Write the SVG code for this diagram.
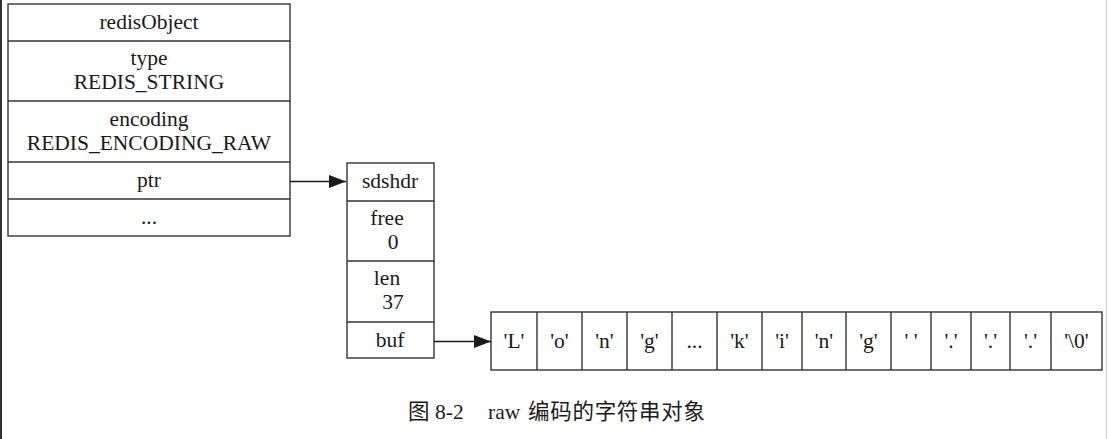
<svg xmlns="http://www.w3.org/2000/svg" width="1109" height="439" viewBox="0 0 1109 439">
<style>
.box{fill:#fff;stroke:#333;stroke-width:1.4}
.sep{stroke:#333;stroke-width:1.4}
text{font-family:"Liberation Serif","Times New Roman",serif;font-size:21.5px;fill:#1a1a1a;text-anchor:middle}
.edge{stroke:#1a1a1a;stroke-width:1.4;fill:none}
.cap{text-anchor:start}
.cjk{font-family:"Liberation Serif","Noto Sans CJK SC",serif}
</style>
<defs>
<marker id="ah" markerUnits="userSpaceOnUse" markerWidth="18" markerHeight="14" refX="17" refY="6.5" orient="auto">
<path d="M0,0 L17,6.5 L0,13 z" fill="#1a1a1a"/>
</marker>
</defs>
<rect x="0" y="0" width="2" height="439" fill="#2b3035"/>
<line x1="1106.5" y1="0" x2="1106.5" y2="439" stroke="#cfcfcf" stroke-width="1"/>
<g id="redisObject">
<rect class="box" x="8" y="4" width="282" height="232"/>
<line class="sep" x1="8" y1="41" x2="290" y2="41"/>
<line class="sep" x1="8" y1="101" x2="290" y2="101"/>
<line class="sep" x1="8" y1="162" x2="290" y2="162"/>
<line class="sep" x1="8" y1="199" x2="290" y2="199"/>
<text x="149" y="29">redisObject</text>
<text x="149" y="65">type</text>
<text x="149" y="89">REDIS_STRING</text>
<text x="149" y="126">encoding</text>
<text x="149" y="150">REDIS_ENCODING_RAW</text>
<text x="149" y="187">ptr</text>
<text x="149" y="224">...</text>
</g>
<g id="sdshdr">
<rect class="box" x="347" y="163" width="87" height="195"/>
<line class="sep" x1="347" y1="201" x2="434" y2="201"/>
<line class="sep" x1="347" y1="261" x2="434" y2="261"/>
<line class="sep" x1="347" y1="322" x2="434" y2="322"/>
<text x="390" y="188">sdshdr</text>
<text x="387" y="225">free</text>
<text x="393" y="249">0</text>
<text x="387" y="285">len</text>
<text x="393" y="309">37</text>
<text x="390" y="347">buf</text>
</g>
<g id="buf" xml:space="preserve">
<rect class="box" x="491" y="312" width="611" height="58"/>
<line class="sep" x1="537" y1="312" x2="537" y2="370"/>
<line class="sep" x1="582" y1="312" x2="582" y2="370"/>
<line class="sep" x1="627" y1="312" x2="627" y2="370"/>
<line class="sep" x1="672" y1="312" x2="672" y2="370"/>
<line class="sep" x1="717" y1="312" x2="717" y2="370"/>
<line class="sep" x1="762" y1="312" x2="762" y2="370"/>
<line class="sep" x1="802" y1="312" x2="802" y2="370"/>
<line class="sep" x1="846" y1="312" x2="846" y2="370"/>
<line class="sep" x1="891" y1="312" x2="891" y2="370"/>
<line class="sep" x1="931" y1="312" x2="931" y2="370"/>
<line class="sep" x1="971" y1="312" x2="971" y2="370"/>
<line class="sep" x1="1010" y1="312" x2="1010" y2="370"/>
<line class="sep" x1="1051" y1="312" x2="1051" y2="370"/>
<text x="514" y="348">'L'</text>
<text x="559.5" y="348">'o'</text>
<text x="604.5" y="348">'n'</text>
<text x="649.5" y="348">'g'</text>
<text x="694.5" y="348">...</text>
<text x="739.5" y="348">'k'</text>
<text x="782" y="348">'i'</text>
<text x="824" y="348">'n'</text>
<text x="868.5" y="348">'g'</text>
<text x="911" y="348">' '</text>
<text x="951" y="348">'.'</text>
<text x="990.5" y="348">'.'</text>
<text x="1030.5" y="348">'.'</text>
<text x="1076.5" y="348">'\0'</text>
</g>
<g id="connectors">
<line class="edge" x1="290" y1="181.5" x2="346" y2="181.5" marker-end="url(#ah)"/>
<line class="edge" x1="434" y1="341.5" x2="491" y2="341.5" marker-end="url(#ah)"/>
</g>
<g id="caption">
<text class="cap cjk" x="408" y="419">图</text>
<text class="cap" x="435" y="419">8-2</text>
<text class="cap" x="488" y="419">raw</text>
<text class="cap cjk" x="528" y="419" textLength="177" lengthAdjust="spacing">编码的字符串对象</text>
</g>
</svg>
